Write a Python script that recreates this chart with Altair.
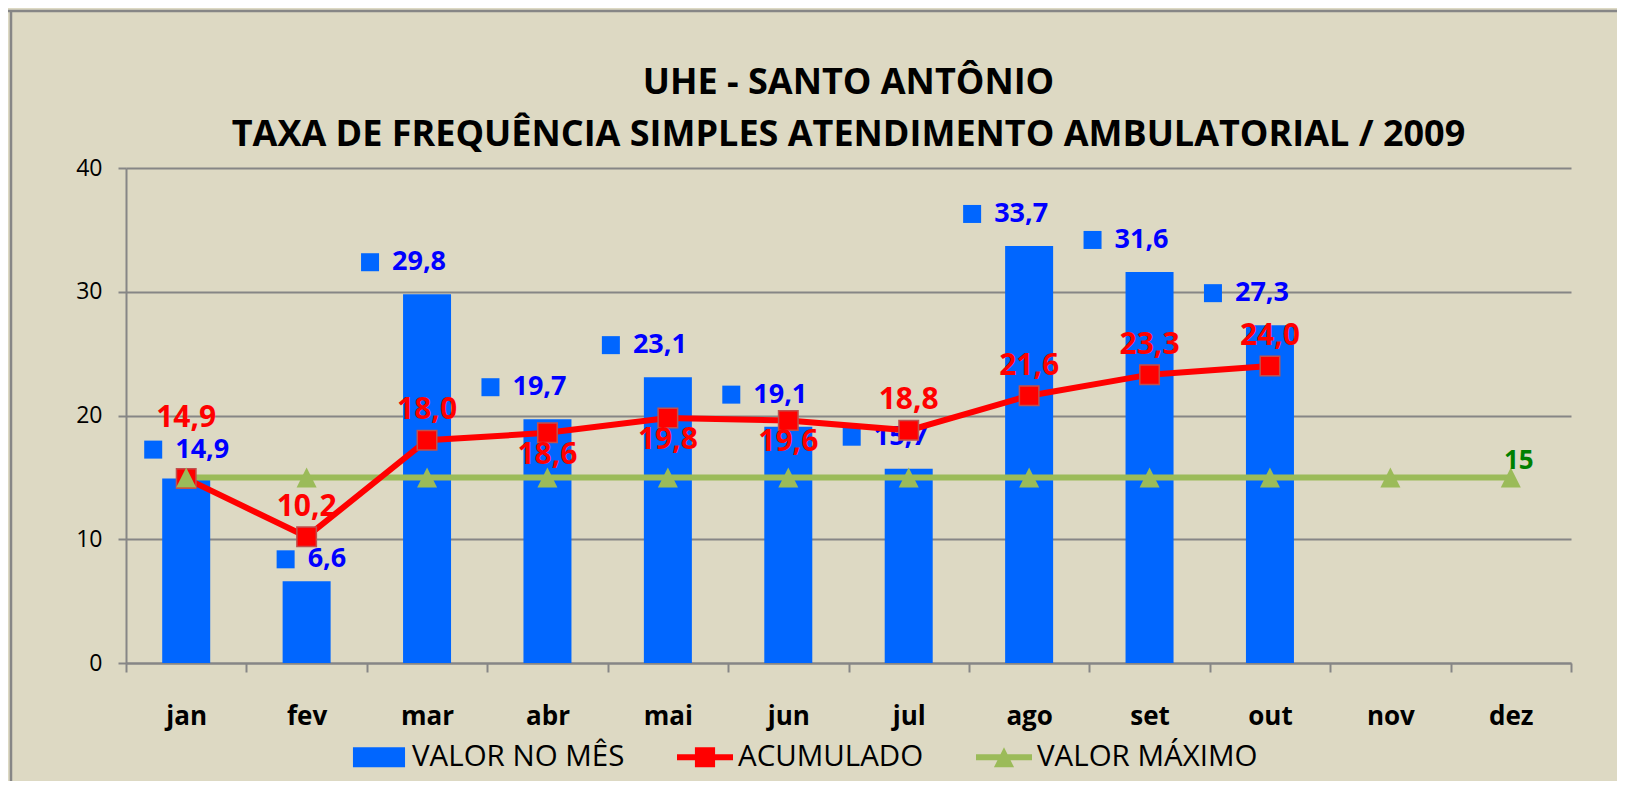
import altair as alt
import pandas as pd

# ---- data ----
meses = ["jan", "fev", "mar", "abr", "mai", "jun", "jul", "ago", "set", "out", "nov", "dez"]
valor_no_mes = [14.9, 6.6, 29.8, 19.7, 23.1, 19.1, 15.7, 33.7, 31.6, 27.3, None, None]
acumulado = [14.9, 10.2, 18.0, 18.6, 19.8, 19.6, 18.8, 21.6, 23.3, 24.0, None, None]
valor_maximo = [15, 15, 15, 15, 15, 15, 15, 15, 15, 15, 15, 15]
series = ["VALOR NO MÊS", "ACUMULADO", "VALOR MÁXIMO"]
titulo = ["UHE - SANTO ANTÔNIO", "TAXA DE FREQUÊNCIA SIMPLES ATENDIMENTO AMBULATORIAL / 2009"]

# label placement choices, as in the reference
red_below = ["abr", "mai", "jun"]
red_high = ["jan"]
blue_right = ["jan"]
blue_low = ["fev"]

BLUE = "#0066FF"
BLUE_TXT = "#0000FF"
RED = "#FF0000"
GREEN = "#9BBB59"
GREEN_TXT = "#008000"
BG = "#DDD9C3"
GRID = "#868686"
FONT = "Open Sans"


def fmt(v):
    return None if v is None else f"{v:.1f}".replace(".", ",")


df = pd.DataFrame({
    "mes": meses,
    "valor": valor_no_mes,
    "acum": acumulado,
    "maximo": valor_maximo,
    "valor_lbl": [fmt(v) for v in valor_no_mes],
    "acum_lbl": [fmt(v) for v in acumulado],
})
df["red_pos"] = ["high" if m in red_high else ("below" if m in red_below else "above") for m in meses]
df["blue_pos"] = ["right" if m in blue_right else ("low" if m in blue_low else "normal") for m in meses]

W, H = 1445, 495

x = alt.X("mes:N", sort=meses, title=None,
          scale=alt.Scale(domain=meses, paddingInner=0, paddingOuter=0),
          axis=alt.Axis(labelFont=FONT, labelFontSize=26, labelFontWeight="bold", labelColor="black",
                        labelPadding=31, tickBand="extent", tickSize=9, tickColor=GRID, tickWidth=2,
                        domainColor=GRID, domainWidth=2, labelAngle=0, grid=False))
yscale = alt.Scale(domain=[0, 40], nice=False)
yaxis = alt.Axis(values=[0, 10, 20, 30, 40], labelFont=FONT, labelFontSize=23, labelColor="black",
                 labelPadding=16, tickSize=8, tickColor=GRID, tickWidth=2, domainColor=GRID,
                 domainWidth=2, grid=True, gridColor=GRID, gridWidth=2, title=None)

base = alt.Chart(df)
X = alt.X("mes:N", sort=meses)

bars = base.mark_bar(size=48, color=BLUE).encode(
    x=x, y=alt.Y("valor:Q", scale=yscale, axis=yaxis))


def blue_labels(pos, shift, dy):
    src = base.transform_filter(alt.datum.blue_pos == pos)
    sq = src.mark_square(size=324, color=BLUE, opacity=1, xOffset=-57 + shift, yOffset=dy).encode(
        x=X, y=alt.Y("valor:Q"))
    tx = src.mark_text(font=FONT, fontSize=27, fontWeight="bold", color=BLUE_TXT,
                       align="left", baseline="middle", dx=-35 + shift, dy=dy).encode(
        x=X, y=alt.Y("valor:Q"), text="valor_lbl:N")
    return [sq, tx]


blue_layers = blue_labels("normal", 0, -32) + blue_labels("right", 24, -29) + blue_labels("low", 36, -22)

green_line = base.mark_line(color=GREEN, strokeWidth=6).encode(x=X, y=alt.Y("maximo:Q"))
green_tri = base.mark_point(shape="M0,-1L1,1H-1Z", size=400, filled=True, color=GREEN, opacity=1).encode(
    x=X, y=alt.Y("maximo:Q"))
green_txt = base.transform_filter(alt.datum.mes == "dez").mark_text(
    font=FONT, fontSize=26, fontWeight="bold", color=GREEN_TXT, align="center",
    baseline="middle", dx=8, dy=-16).encode(x=X, y=alt.Y("maximo:Q"), text=alt.Text("maximo:Q"))

acc = base.transform_filter("isValid(datum.acum)")
red_line = acc.mark_line(color=RED, strokeWidth=6).encode(x=X, y=alt.Y("acum:Q"))
red_sq = acc.mark_square(size=380, color=RED, opacity=1, stroke="#C0504D", strokeWidth=1.5).encode(
    x=X, y=alt.Y("acum:Q"))


def red_labels(pos, dy):
    return acc.transform_filter(alt.datum.red_pos == pos).mark_text(
        font=FONT, fontSize=30, fontWeight="bold", color=RED, align="center",
        baseline="middle", dy=dy).encode(x=X, y=alt.Y("acum:Q"), text="acum_lbl:N")


red_txt = [red_labels("above", -30), red_labels("below", 22), red_labels("high", -61)]

# legend-only layer (invisible marks, visible legend symbols)
leg_df = pd.DataFrame({"serie": series})
sym_bar = "M-0.93,-0.36H0.93V0.36H-0.93Z"
sym_acc = "M-1,-0.107H1V0.107H-1Z M-0.36,-0.36H0.36V0.36H-0.36Z"
sym_max = "M-1,-0.107H1V0.107H-1Z M0,-0.36L0.36,0.36H-0.36Z"
legend_layer = alt.Chart(leg_df).mark_point(filled=True, opacity=0).encode(
    color=alt.Color("serie:N", scale=alt.Scale(domain=series, range=[BLUE, RED, GREEN]),
                    legend=alt.Legend(orient="none", legendX=225, legendY=561, direction="horizontal",
                                      title=None, symbolSize=3136, symbolOpacity=1, symbolStrokeWidth=0,
                                      labelFont=FONT, labelFontSize=29.5, labelColor="black",
                                      labelOffset=5, columnPadding=52, padding=0, labelLimit=400)),
    shape=alt.Shape("serie:N", scale=alt.Scale(domain=series, range=[sym_bar, sym_acc, sym_max]),
                    legend=None),
)

# frame border of the chart area (decoration)
one = pd.DataFrame({"a": [0]})
frame_top = alt.Chart(one).mark_rule(color=GRID, strokeWidth=2.5).encode(
    x=alt.value(-118), x2=alt.value(W + 60), y=alt.value(-157))
frame_left = alt.Chart(one).mark_rule(color=GRID, strokeWidth=2.5).encode(
    x=alt.value(-115), y=alt.value(-158), y2=alt.value(H + 130))

chart = alt.layer(
    bars, *blue_layers, green_line, red_line, red_sq, green_tri,
    *red_txt, green_txt, legend_layer, frame_top, frame_left
).properties(
    width=W, height=H,
    title=alt.TitleParams(text=titulo, font=FONT, fontSize=36, fontWeight="bold", color="black",
                          lineHeight=52, anchor="middle", offset=-145, frame="group"),
    autosize=alt.AutoSizeParams(type="none"),
    padding={"left": 118, "top": 160, "right": 46, "bottom": 118},
    background=BG,
).configure_view(stroke=None).resolve_scale(color="independent", shape="independent")

chart.save("out.html", embed_options={"renderer": "svg", "actions": False})
